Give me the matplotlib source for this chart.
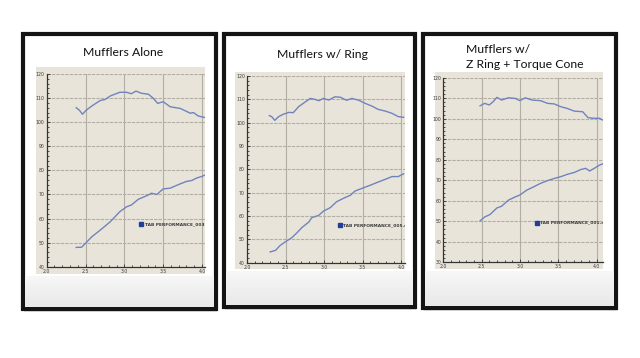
import matplotlib
matplotlib.use("Agg")
import matplotlib.pyplot as plt
import numpy as np
from matplotlib.colors import LinearSegmentedColormap
from matplotlib.patches import Rectangle
from matplotlib.ticker import MultipleLocator

W, H = 640, 358

titles = ["Mufflers Alone", "Mufflers w/ Ring", "Mufflers w/\nZ Ring + Torque Cone"]
legend_names = ["TAB PERFORMANCE_003.dt", "TAB PERFORMANCE_005.dt", "TAB PERFORMANCE_001.dt"]
x_ticks = [2.0, 2.5, 3.0, 3.5, 4.0]
y_ticks_alone = [40, 50, 60, 70, 80, 90, 100, 110, 120]
y_ticks_ring = [40, 50, 60, 70, 80, 90, 100, 110, 120]
y_ticks_cone = [30, 40, 50, 60, 70, 80, 90, 100, 110, 120]

# Mufflers Alone
alone_upper_rpm = [2.38, 2.42, 2.46, 2.51, 2.58, 2.69, 2.75, 2.82, 2.94, 3.03, 3.09, 3.15, 3.22, 3.31, 3.37, 3.43, 3.5, 3.59, 3.72, 3.85, 3.89, 3.95, 4.04]
alone_upper = [106.0, 105.0, 103.3, 105.0, 106.7, 109.0, 109.4, 110.9, 112.4, 112.4, 111.8, 112.9, 112.0, 111.6, 110.0, 107.8, 108.5, 106.4, 105.7, 103.7, 104.0, 102.6, 101.9]
alone_lower_rpm = [2.38, 2.45, 2.49, 2.58, 2.69, 2.82, 2.94, 3.03, 3.09, 3.18, 3.29, 3.35, 3.42, 3.5, 3.59, 3.72, 3.8, 3.87, 3.93, 4.0, 4.04]
alone_lower = [48.0, 48.1, 49.4, 52.4, 55.2, 58.7, 62.8, 64.9, 65.6, 68.0, 69.5, 70.5, 70.0, 72.3, 72.6, 74.4, 75.4, 75.8, 76.8, 77.5, 78.1]

# Mufflers w/ Ring
ring_upper_rpm = [2.29, 2.32, 2.36, 2.41, 2.47, 2.54, 2.6, 2.67, 2.73, 2.82, 2.88, 2.93, 2.99, 3.06, 3.14, 3.21, 3.29, 3.36, 3.45, 3.53, 3.62, 3.7, 3.79, 3.88, 3.96, 4.03]
ring_upper = [103.0, 102.6, 101.0, 102.6, 103.6, 104.4, 104.3, 106.9, 108.3, 110.4, 110.0, 109.4, 110.4, 109.7, 111.1, 110.9, 109.6, 110.4, 109.6, 108.3, 107.1, 105.7, 105.0, 104.0, 102.6, 102.3]
ring_lower_rpm = [2.3, 2.37, 2.43, 2.5, 2.58, 2.65, 2.71, 2.8, 2.84, 2.93, 2.99, 3.08, 3.16, 3.27, 3.34, 3.4, 3.51, 3.59, 3.68, 3.79, 3.88, 3.96, 4.03]
ring_lower = [44.6, 45.3, 47.4, 49.0, 50.7, 52.9, 55.0, 57.4, 59.3, 60.3, 62.1, 63.6, 66.1, 67.9, 68.9, 70.7, 72.1, 73.1, 74.3, 75.7, 76.9, 76.9, 78.1]

# Mufflers w/ Z Ring + Torque Cone
cone_upper_rpm = [2.48, 2.54, 2.6, 2.65, 2.7, 2.76, 2.85, 2.94, 3.0, 3.07, 3.16, 3.27, 3.36, 3.45, 3.53, 3.62, 3.71, 3.82, 3.89, 3.97, 4.04, 4.08]
cone_upper = [106.3, 107.5, 106.7, 108.3, 110.4, 109.1, 110.2, 109.9, 108.8, 110.2, 109.1, 108.8, 107.5, 107.2, 105.9, 105.0, 103.7, 103.4, 100.5, 100.2, 100.2, 99.4]
cone_lower_rpm = [2.48, 2.54, 2.61, 2.7, 2.76, 2.85, 2.94, 3.0, 3.09, 3.18, 3.27, 3.36, 3.45, 3.53, 3.62, 3.71, 3.8, 3.86, 3.91, 3.97, 4.04, 4.08]
cone_lower = [50.2, 52.1, 53.3, 56.5, 57.3, 60.3, 61.9, 62.8, 65.2, 66.8, 68.5, 69.8, 70.9, 71.7, 72.9, 73.8, 75.3, 75.8, 74.5, 75.8, 77.4, 78.0]

legend_pos = [(3.22, 57.7), (3.21, 56.1), (3.22, 49.3)]

# pixel layout: frame (x0, y0, x1, y1), photo, plot area (x at 2.0, x at 4.0, y top, y bottom)
frames = [(23, 34, 216, 309), (224, 34, 415, 307), (423, 34, 616, 308)]
photos = [(36, 67, 205, 274), (235, 72, 405, 269), (435, 72, 603, 269)]
plots = [(46.7, 202.0, 74.0, 266.7), (247.0, 401.3, 76.0, 262.7), (443.3, 596.5, 77.7, 262.3)]
title_xy = [(123, 53, "center"), (322, 55, "center"), (466, 57, "left")]

LINE = "#6f84bd"
PHOTO = "#e9e4da"


def fig_rect(x0, y0, x1, y1):
    return [x0 / W, 1 - y1 / H, (x1 - x0) / W, (y1 - y0) / H]


fig = plt.figure(figsize=(W / 100, H / 100), dpi=100)
page = fig.add_axes([0, 0, 1, 1])
page.axis("off")

grad = np.linspace(0, 1, 50).reshape(-1, 1)
gcmap = LinearSegmentedColormap.from_list("g", ["#f7f7f7", "#e9e9e9"])

for i in range(3):
    x0, y0, x1, y1 = frames[i]
    # soft shadow under each slide frame
    page.add_patch(Rectangle((x0 + 1, y0 + 3), x1 - x0, y1 - y0, facecolor="#c8c8c8", edgecolor="none", alpha=0.6, zorder=1))
    page.add_patch(Rectangle((x0, y0), x1 - x0, y1 - y0, facecolor="white", edgecolor="#141414", linewidth=3.0, zorder=2))
    px0, py0, px1, py1 = photos[i]
    page.imshow(grad, extent=(x0 + 2, x1 - 2, y1 - 2, py1 + 2), cmap=gcmap, aspect="auto", zorder=3)
    page.add_patch(Rectangle((px0, py0), px1 - px0, py1 - py0, facecolor=PHOTO, edgecolor="none", zorder=4))
    tx, ty, ha = title_xy[i]
    page.text(tx, ty, titles[i], ha=ha, va="center", fontsize=8.8, family="Lato", color="#111111", linespacing=1.35, zorder=5)
page.set_xlim(0, W)
page.set_ylim(H, 0)

series = [
    (alone_upper_rpm, alone_upper, alone_lower_rpm, alone_lower, y_ticks_alone),
    (ring_upper_rpm, ring_upper, ring_lower_rpm, ring_lower, y_ticks_ring),
    (cone_upper_rpm, cone_upper, cone_lower_rpm, cone_lower, y_ticks_cone),
]

for i, (ux, uy, lx, ly, yt) in enumerate(series):
    ax0, ax4, ytop, ybot = plots[i]
    px1 = photos[i][2]
    xmax = 2.0 + (px1 - ax0) / ((ax4 - ax0) / 2.0)
    ax = fig.add_axes(fig_rect(ax0, ytop, px1, ybot))
    ax.set_facecolor("none")
    ax.set_xlim(2.0, xmax)
    ax.set_ylim(yt[0], yt[-1])
    ax.set_xticks(x_ticks)
    ax.set_xticklabels([f"{v:.1f}" for v in x_ticks])
    ax.set_yticks(yt)
    ax.set_yticklabels([str(v) for v in yt])
    ax.xaxis.set_minor_locator(MultipleLocator(0.1))
    ax.yaxis.set_minor_locator(MultipleLocator(2))
    ax.tick_params(which="both", direction="in", length=1.6, width=0.6, color="#333333", labelsize=3.3, labelcolor="#3a3a3a", pad=1.5)
    ax.tick_params(which="major", length=2.2)
    for s in ["top", "right"]:
        ax.spines[s].set_visible(False)
    for s in ["left", "bottom"]:
        ax.spines[s].set_color("#333333")
        ax.spines[s].set_linewidth(0.9)
    for v in x_ticks[1:]:
        ax.axvline(v, color="#b3aea4", linewidth=0.8, zorder=1)
    for v in yt[1:]:
        ax.axhline(v, color="#b3aea4", linewidth=0.8, linestyle=(0, (3, 1)), zorder=1)
    ax.plot(ux, uy, color=LINE, linewidth=1.0, zorder=3)
    ax.plot(lx, ly, color=LINE, linewidth=1.0, zorder=3)
    lxp, lyp = legend_pos[i]
    ax.plot([lxp], [lyp], marker="s", markersize=2.4, color="#1f3f9a", linestyle="none", zorder=4)
    ax.text(lxp + 0.04, lyp, legend_names[i], fontsize=3.2, fontweight="bold", color="#3a3a3a", va="center", ha="left", clip_on=True, zorder=4)

fig.savefig("out.png", dpi=100)
